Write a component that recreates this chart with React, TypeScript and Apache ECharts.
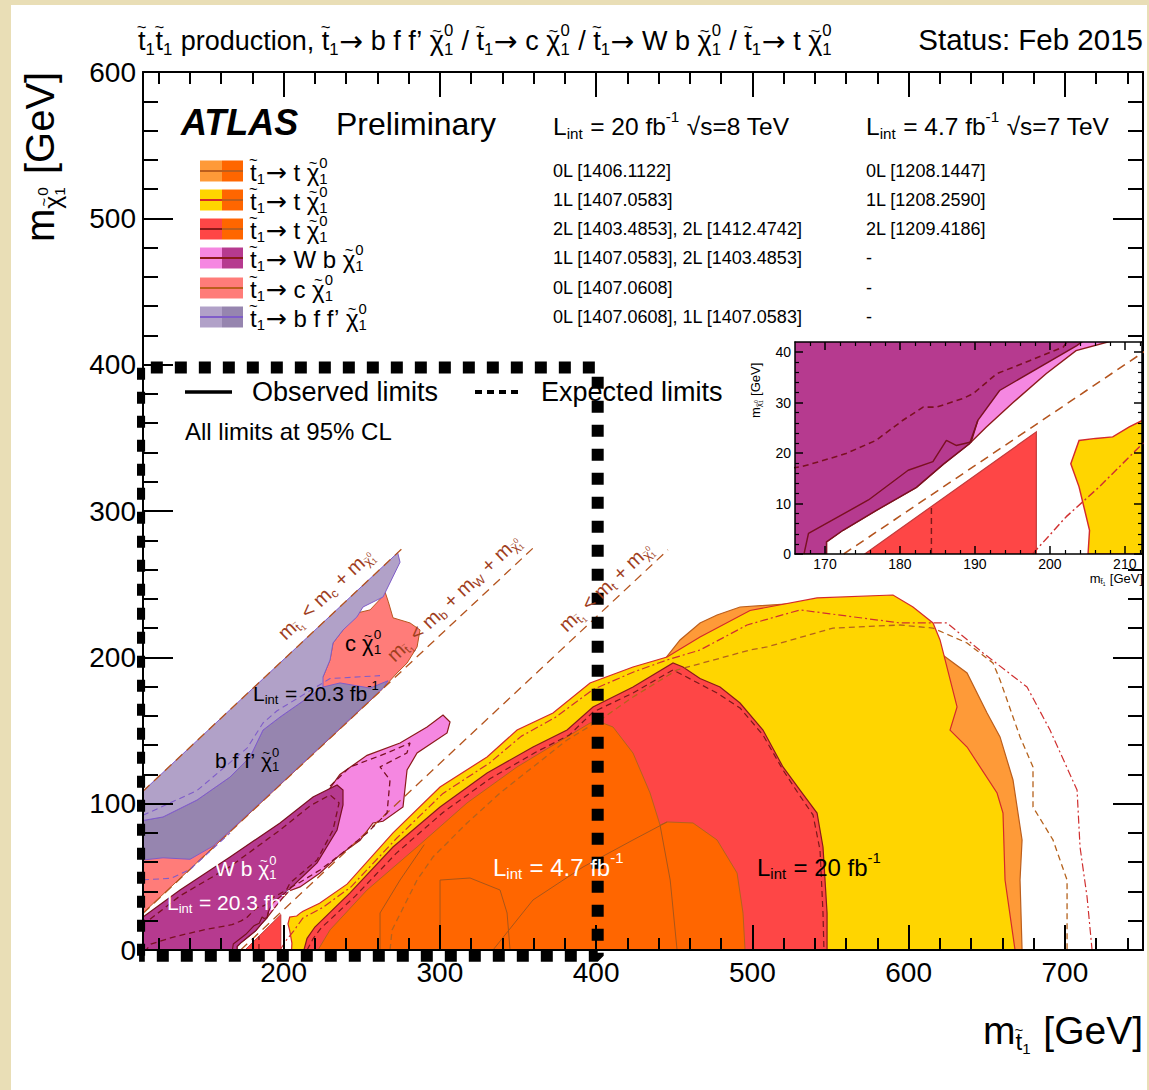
import React, { useEffect, useRef } from "react";
import * as echarts from "echarts";

const FONT = "'Liberation Sans', Arimo, Arial, sans-serif";
const ARROW_FONT = "'DejaVu Sans', sans-serif";

/* ---------- axis ranges and ticks ---------- */
const X_RANGE = [110, 750];
const Y_RANGE = [0, 600];
const X_MAJOR = [200, 300, 400, 500, 600, 700];
const X_MINOR = [120, 140, 160, 180, 220, 240, 260, 280, 320, 340, 360, 380, 420, 440, 460, 480, 520, 540, 560, 580, 620, 640, 660, 680, 720, 740];
const Y_MAJOR = [0, 100, 200, 300, 400, 500, 600];
const Y_MINOR = [20, 40, 60, 80, 120, 140, 160, 180, 220, 240, 260, 280, 320, 340, 360, 380, 420, 440, 460, 480, 520, 540, 560, 580];

const INSET_X_RANGE = [166, 212.3];
const INSET_Y_RANGE = [0, 42];
const INSET_X_MAJOR = [170, 180, 190, 200, 210];
const INSET_X_MINOR = [168, 172, 174, 176, 178, 182, 184, 186, 188, 192, 194, 196, 198, 202, 204, 206, 208, 212];
const INSET_Y_MAJOR = [0, 10, 20, 30, 40];
const INSET_Y_MINOR = [2, 4, 6, 8, 12, 14, 16, 18, 22, 24, 26, 28, 32, 34, 36, 38];

/* ---------- kinematic boundaries (m_stop, m_LSP in GeV) ---------- */
const KIN_C = [[110, 108.5], [276.5, 275]];
const KIN_W = [[110, 25], [362, 277]];
const KIN_T = [[172.5, 0], [446, 273.5]];

/* ---------- stop -> t chi: excluded regions ---------- */
const T_0L_8TEV = [[261.7, 0], [261.7, 25.3], [274.5, 47.8], [287.3, 70.4], [306.5, 93.6], [327.6, 111.4], [349.4, 131.9], [370.5, 143.5], [396.1, 155.1], [415.3, 170.9], [434.5, 185.9], [453.7, 211.9], [466.5, 223.5], [477.4, 228.9], [492.1, 234.4], [530.5, 237.1], [562.5, 230.3], [594.5, 220.7], [620.1, 203.0], [637.4, 189.3], [650.2, 162.0], [658.5, 145.6], [666.8, 116.2], [672.6, 75.2], [671.3, 47.8], [672.6, 0]];
const T_1L_8TEV = [[205.1, 0], [205.3, 4.7], [203.9, 13.3], [202.8, 17.9], [203.9, 22.5], [206.1, 22.9], [208.4, 23.2], [210.6, 25.2], [212.4, 26.5], [223, 32], [240.6, 45], [270, 80], [300.1, 111.4], [330.2, 131.9], [349.4, 150.3], [372.4, 162], [396.1, 182.5], [423.6, 193.4], [445.4, 200.2], [466.5, 213.9], [498.5, 232], [541.4, 240.6], [590, 242.6], [602.8, 234.4], [615.6, 223.5], [620.1, 211.9], [631, 166.1], [626.5, 150.3], [637.4, 138.7], [656.6, 107.3], [660.4, 93.6], [661.7, 47.8], [668.1, 0]];
const T_2L_8TEV = [[213, 0], [215, 8], [220, 15.7], [242.5, 39], [270, 70.4], [300.1, 97.7], [330.2, 121], [359.6, 138.7], [381.4, 150.3], [398, 166.1], [423.6, 179.7], [449.2, 196.1], [455.6, 193.4], [466.5, 185.5], [479.3, 179.7], [492.1, 168.8], [506.8, 150.3], [519.6, 125.1], [530.5, 109.3], [541.4, 93.6], [545.2, 70.4], [547.8, 25.3], [547.8, 0]];
const T_2L_8TEV_LOW = [[175.3, 0], [198.2, 24.2], [198.2, 0]];
const T_7TEV = [[222, 0], [229.7, 13.7], [253.4, 41], [285.4, 70.4], [317.4, 100.5], [349.4, 125.1], [370.5, 138.7], [396.1, 155.1], [402.5, 155.8], [410.8, 152.4], [423.6, 134.6], [434.5, 107.3], [440.9, 85.4], [445.4, 87.5], [462, 86.8], [477.4, 75.2], [490.2, 52.6], [494, 25.3], [495.3, 0]];
const T_0L_7TEV_A = [[261.7, 0], [261.7, 25.3], [274.5, 47.8], [290, 72]];
const T_0L_7TEV_B = [[440.9, 85.4], [447.4, 47.8], [451.8, 0]];
const T_1L_7TEV = [[334, 0], [359.6, 34.2], [391.6, 56.7], [423.6, 75.2], [445.4, 87.5]];
const T_2L_7TEV = [[300.1, 0], [300.1, 47.8], [319.3, 49.2], [338.5, 41], [343, 25.3], [344.9, 0]];
const EXP_0L = [[268.1, 0], [269.4, 13.7], [285.4, 47.8], [295.6, 63.6], [317.4, 86.8], [338.5, 107.3], [359.6, 125.1], [381.4, 143.5], [402.5, 157.2], [423.6, 172.9], [451.8, 191.4], [498.5, 205], [509.4, 207.1], [551.6, 220], [594.5, 222.1], [615.6, 220], [637.4, 209.8], [654, 196.1], [658.5, 184.5], [671.3, 145.6], [679.6, 125.1], [679.6, 97.7], [692.4, 75.2], [701.4, 47.8], [701.4, 0]];
const EXP_1L = [[197.7, 0], [202.2, 7.4], [206.6, 13.3], [212.4, 21.9], [225, 29], [243, 43], [272, 76], [302, 107], [332, 128], [352, 146], [374, 159], [398, 178], [424, 190], [445.4, 198.2], [466.5, 205], [496.6, 222.1], [530.5, 232.4], [594.5, 223.5], [624.6, 223.5], [647.6, 203], [675.8, 179.7], [690.5, 150.3], [707.8, 109.3], [709.7, 70.4], [714.2, 36.2], [717.4, 0]];
const EXP_2L = [[215, 0], [219, 8], [224, 15], [246, 37], [272, 66], [302, 94], [332, 117], [361, 135], [383, 147], [398, 162.6], [423.6, 175.6], [449.2, 191.4], [477.4, 175.6], [492.1, 165.4], [506.8, 146.9], [519.6, 123], [529.2, 107.3], [538.8, 92.3], [543.3, 68.3], [545.2, 25.3], [545.8, 0]];
const EXP_2L_LOW = [[184.2, 0], [184.2, 9.4]];

/* ---------- stop -> W b chi ---------- */
const WB_1L = [[170.2, 0], [170.2, 2.4], [172.4, 4.7], [176.8, 8.6], [182.2, 13.2], [185.8, 17.8], [189.3, 21.9], [191.5, 25.1], [195.1, 30], [199.5, 35.7], [203.5, 40.3], [210.5, 43.1], [223.3, 52.6], [236, 65], [248.9, 75], [257.2, 86.8], [263.6, 88], [276.4, 97.7], [279, 123], [285.4, 134.6], [304.6, 148.3], [306.5, 155.8], [302, 160.6], [291.8, 152.4], [274.5, 141.5], [253.4, 133], [236, 120], [228, 108], [200, 82], [150, 48], [115, 20], [110, 16], [110, 0]];
const WB_2L = [[110, 0], [110, 22.6], [133.7, 41], [165.7, 63.6], [197.7, 86.8], [218.8, 104.6], [234.2, 112.8], [238, 109.3], [238, 99.1], [234.2, 82], [221.4, 59.5], [210, 48], [203.6, 41.3], [193.3, 32.4], [190.4, 26.5], [189.3, 21.9], [185.8, 17.8], [182.2, 13.2], [176.8, 8.6], [172.4, 4.7], [170.2, 2.4], [170.2, 0]];
const WB_2L_LINE = [[167.2, 0], [167.8, 4.1], [175.8, 10.7], [181.1, 16.6], [184.4, 18.3], [186.2, 22.5], [187.5, 21.5], [189.5, 22.2], [190.4, 26.5]];
const EXP_WB_2L = [[114.5, 21], [133.7, 37], [165.7, 57], [197.7, 82], [216.9, 98.5], [229.7, 106], [235.5, 100.5], [231.6, 82], [221.4, 61.5], [204.1, 45.8], [201.8, 41], [197.3, 38.3], [192.9, 35.7], [189.8, 31.8], [188.4, 30.8], [184.9, 29.1], [183.1, 29.1], [180.4, 26.5], [176.8, 22.5], [172.8, 19.9], [170.6, 18.9], [166.9, 17.3], [150, 14], [130, 9], [115, 4], [112, 0]];
const EXP_WB_1L = [[229.7, 112], [242.5, 125.1], [266.2, 134.6], [280.9, 141.5], [278.9, 134.6], [261.7, 125.1], [268.1, 116.2], [266.2, 93.6], [253.4, 80], [236.1, 65], [223.3, 54.7], [210, 46], [204, 42.5]];

/* ---------- stop -> c chi and stop -> b f f' chi ---------- */
const CC_0L = [[110, 25.3], [262, 177], [272.6, 189.3], [279, 196.1], [285.4, 207.1], [287.3, 218.7], [280.9, 223.5], [270, 227], [267, 238], [264.5, 246], [262, 240], [255.3, 232.4], [246.9, 230.3], [238, 218.7], [231.6, 209.8], [229.7, 198.2], [225.2, 186.6], [200, 150], [150, 110], [110, 86]];
const BFF_1L = [[110, 88.5], [122.8, 90.9], [144.6, 102.5], [165.7, 118.2], [178.5, 131.9], [186.8, 150.3], [197.7, 159.2], [225.2, 179.7], [236.1, 182.5], [255.3, 179], [266.8, 184], [264, 179.5], [200, 115.5], [165.7, 81.5], [154.8, 71], [140.1, 62], [122.8, 63], [110, 61.5]];
const BFF_0L = [[110, 108.5], [273, 271.5], [274.5, 265], [263.6, 241.2], [250.8, 234.4], [246.9, 227.6], [238, 218.7], [231.6, 209.8], [229.7, 198.2], [225.2, 186.6], [225.2, 179.7], [197.7, 159.2], [186.8, 150.3], [178.5, 131.9], [165.7, 118.2], [144.6, 102.5], [122.8, 90.9], [110, 88.5]];
const EXP_BFF_A = [[110, 92], [144.6, 109], [176.6, 138], [186.8, 155.1], [195.8, 163.5], [229.7, 185.5], [261.7, 187.5]];
const EXP_BFF_B = [[110, 48], [128, 49], [140, 55], [165.7, 80]];

/* ---------- highlighted low-mass window ---------- */
const BOX = [[107.5, -4], [107.5, 398], [401, 398], [401, -4], [107.5, -4]];

/* ---------- colours ---------- */
const COL = {
  orangeLight: "#FE9A38", yellow: "#FFD500", red: "#FE4646", orangeDark: "#FF6600",
  pink: "#F587E1", magenta: "#B63A8F", salmon: "#FF7C79", purpleLight: "#B1A1C8", purpleDark: "#9685AF",
  lnOrange: "#BC5E1C", lnYellow: "#D42A2A", lnRed: "#8B1A1A", lnPurple: "#7F5CC9", kin: "#B4541E", kinText: "#A0401E",
};

/* ---------- text layout with sub/superscripts and tilde accents ---------- */
const measureCtx: CanvasRenderingContext2D | null =
  typeof document !== "undefined" ? document.createElement("canvas").getContext("2d") : null;

function textWidth(t: string, size: number, weight: string, fstyle: string, family = FONT) {
  if (!measureCtx) return t.length * size * 0.55;
  measureCtx.font = `${fstyle} ${weight} ${size}px ${family}`;
  return measureCtx.measureText(t).width;
}

type TOpts = { size: number; color: string; weight?: string; style?: string };

function findClose(s: string, open: number) {
  let d = 0;
  for (let i = open; i < s.length; i++) {
    if (s[i] === "{") d++;
    else if (s[i] === "}") {
      d--;
      if (d === 0) return i;
    }
  }
  return s.length;
}

function textEl(t: string, x: number, y: number, size: number, o: TOpts, weight?: string, fstyle?: string, family = FONT) {
  const w = weight ?? o.weight ?? "normal";
  const st = fstyle ?? o.style ?? "normal";
  return {
    type: "text", x, y, z: 20,
    style: {
      text: t, font: `${st} ${w} ${size}px ${family}`, fill: o.color,
      align: "left", verticalAlign: "middle", textAlign: "left", textVerticalAlign: "middle",
    },
  };
}

function layout(s: string, size: number, x0: number, y: number, o: TOpts, out: any[]): number {
  let x = x0;
  let buf = "";
  const weight = o.weight ?? "normal";
  const fstyle = o.style ?? "normal";
  const flush = () => {
    if (buf) {
      out.push(textEl(buf, x, y, size, o));
      x += textWidth(buf, size, weight, fstyle);
      buf = "";
    }
  };
  let i = 0;
  while (i < s.length) {
    const c = s[i];
    if ((c === "_" || c === "^") && s[i + 1] === "{") {
      flush();
      const e1 = findClose(s, i + 1);
      const a = s.slice(i + 2, e1);
      let j = e1 + 1;
      let b: string | null = null;
      if ((s[j] === "_" || s[j] === "^") && s[j] !== c && s[j + 1] === "{") {
        const e2 = findClose(s, j + 1);
        b = s.slice(j + 2, e2);
        j = e2 + 1;
      }
      const sub = c === "_" ? a : b;
      const sup = c === "^" ? a : b;
      const ss = size * 0.62;
      let w = 0;
      if (sub !== null) w = Math.max(w, layout(sub, ss, x, y + size * 0.3, o, out) - x);
      if (sup !== null) w = Math.max(w, layout(sup, ss, x, y - size * 0.38, o, out) - x);
      x += w + size * 0.03;
      i = j;
    } else if (c === "~") {
      flush();
      const ch = s[i + 1];
      out.push(textEl(ch, x, y, size, o));
      const cw = textWidth(ch, size, weight, fstyle);
      const ts = size * 0.62;
      const tw = textWidth("~", ts, "normal", "normal");
      const dy = ch === "t" ? -0.5 : -0.36;
      out.push(textEl("~", x + cw / 2 - tw / 2, y + dy * size, ts, o, "normal", "normal"));
      x += cw;
      i += 2;
    } else if (c === "→") {
      flush();
      const as = size * 1.05;
      out.push(textEl("→", x, y, as, o, "normal", "normal", ARROW_FONT));
      x += textWidth("→", as, "normal", "normal", ARROW_FONT);
      i++;
    } else {
      buf += c;
      i++;
    }
  }
  flush();
  return x;
}

function label(s: string, x: number, y: number, o: TOpts, align: "left" | "right" | "center" = "left", rotation = 0) {
  const kids: any[] = [];
  const w = layout(s, o.size, 0, 0, o, kids);
  const shift = align === "right" ? -w : align === "center" ? -w / 2 : 0;
  kids.forEach((k) => (k.x += shift));
  return { type: "group", x, y, rotation, z: 20, children: kids };
}

/* ---------- series builders ---------- */
function poly(pts: number[][], fill: string, stroke: string, lw: number, ax: number, ay: number, z: number) {
  return {
    type: "custom", xAxisIndex: ax, yAxisIndex: ay, z, clip: true, silent: true,
    data: pts,
    renderItem: (params: any, api: any) => {
      if (params.dataIndex !== 0) return null;
      return {
        type: "polygon",
        shape: { points: pts.map((p) => api.coord(p)) },
        style: { fill, stroke, lineWidth: lw },
      };
    },
  };
}

function path(pts: number[][], color: string, width: number, dash: any, ax: number, ay: number, z: number, clip = true) {
  return {
    type: "line", xAxisIndex: ax, yAxisIndex: ay, z, data: pts, symbol: "none", showSymbol: false,
    silent: true, clip, lineStyle: { color, width, type: dash, cap: "butt" }, emphasis: { disabled: true },
  };
}

function contentSeries(ax: number, ay: number, z: number, lw: number) {
  const dash = [6, 4];
  return [
    path(KIN_C, COL.kin, 1.3 * lw, [9, 6], ax, ay, z),
    path(KIN_W, COL.kin, 1.3 * lw, [9, 6], ax, ay, z),
    path(KIN_T, COL.kin, 1.3 * lw, [9, 6], ax, ay, z),
    poly(T_0L_8TEV, COL.orangeLight, COL.lnOrange, 1.2 * lw, ax, ay, z),
    poly(T_1L_8TEV, COL.yellow, COL.lnYellow, 1.2 * lw, ax, ay, z),
    poly(T_2L_8TEV, COL.red, COL.lnRed, 1.2 * lw, ax, ay, z),
    poly(T_2L_8TEV_LOW, COL.red, "#C43A3A", 1 * lw, ax, ay, z),
    poly(T_7TEV, COL.orangeDark, "#B5621C", 1 * lw, ax, ay, z),
    path(T_0L_7TEV_A, "#A8561A", 1 * lw, "solid", ax, ay, z),
    path(T_0L_7TEV_B, "#A8561A", 1 * lw, "solid", ax, ay, z),
    path(T_1L_7TEV, "#A8561A", 1 * lw, "solid", ax, ay, z),
    path(T_2L_7TEV, "#A8561A", 1 * lw, "solid", ax, ay, z),
    poly(WB_1L, COL.pink, COL.lnRed, 1.2 * lw, ax, ay, z),
    poly(WB_2L, COL.magenta, "#7A1020", 1.2 * lw, ax, ay, z),
    path(WB_2L_LINE, "#7A1020", 1.2 * lw, "solid", ax, ay, z),
    poly(CC_0L, COL.salmon, "#B9561E", 1 * lw, ax, ay, z),
    poly(BFF_1L, COL.purpleDark, COL.lnPurple, 1 * lw, ax, ay, z),
    poly(BFF_0L, COL.purpleLight, COL.lnPurple, 1 * lw, ax, ay, z),
    path(EXP_0L, "#B5621C", 1.3 * lw, dash, ax, ay, z),
    path(EXP_1L, "#D03030", 1.2 * lw, [8, 3, 2, 3], ax, ay, z),
    path(EXP_2L, "#7A1A1A", 1.2 * lw, dash, ax, ay, z),
    path(EXP_2L_LOW, "#7A1A1A", 1.2 * lw, dash, ax, ay, z),
    path(EXP_WB_2L, "#7A1020", 1.3 * lw, dash, ax, ay, z),
    path(EXP_WB_1L, "#7A1020", 1.3 * lw, dash, ax, ay, z),
    path(EXP_BFF_A, COL.lnPurple, 1.1 * lw, dash, ax, ay, z),
    path(EXP_BFF_B, COL.lnPurple, 1.1 * lw, dash, ax, ay, z),
  ];
}

/* ---------- axes ---------- */
function mkAxis(grid: number, range: number[], pos: string, ticks: number[], len: number, z: number,
  o: { line?: boolean; labels?: number[]; labelSize?: number; margin?: number; lw?: number }) {
  const lw = o.lw ?? 2;
  return {
    type: "value", gridIndex: grid, min: range[0], max: range[1], position: pos, z, offset: 0,
    axisLine: { show: !!o.line, onZero: false, lineStyle: { color: "#000", width: lw } },
    axisTick: { show: true, inside: true, length: len, customValues: ticks, lineStyle: { color: "#000", width: lw } },
    axisLabel: o.labels
      ? { show: true, customValues: o.labels, fontSize: o.labelSize, fontFamily: FONT, color: "#000", margin: o.margin }
      : { show: false },
    splitLine: { show: false },
    minorTick: { show: false },
  };
}

/* ---------- legend, annotations ---------- */
const LEG_ROWS_Y = [171, 200, 229, 258, 288, 317];
const LEG_LABELS = [
  "~t_{1}→ t ~χ_{1}^{0}", "~t_{1}→ t ~χ_{1}^{0}", "~t_{1}→ t ~χ_{1}^{0}",
  "~t_{1}→ W b ~χ_{1}^{0}", "~t_{1}→ c ~χ_{1}^{0}", "~t_{1}→ b f f’ ~χ_{1}^{0}",
];
const LEG_SWATCH = [
  { l: COL.orangeLight, r: COL.orangeDark, ll: COL.lnOrange, lr: COL.lnOrange },
  { l: COL.yellow, r: COL.orangeDark, ll: COL.lnYellow, lr: COL.lnOrange },
  { l: COL.red, r: COL.orangeDark, ll: COL.lnRed, lr: COL.lnOrange },
  { l: COL.pink, r: COL.magenta, ll: COL.lnRed, lr: COL.lnRed },
  { l: COL.salmon, r: COL.salmon, ll: COL.lnOrange, lr: COL.lnOrange },
  { l: COL.purpleLight, r: COL.purpleDark, ll: COL.lnPurple, lr: COL.lnPurple },
];
const REFS_8TEV = ["0L [1406.1122]", "1L [1407.0583]", "2L [1403.4853], 2L [1412.4742]", "1L [1407.0583], 2L [1403.4853]", "0L [1407.0608]", "0L [1407.0608], 1L [1407.0583]"];
const REFS_7TEV = ["0L [1208.1447]", "1L [1208.2590]", "2L [1209.4186]", "-", "-", "-"];

function buildGraphics() {
  const g: any[] = [];
  g.push({ type: "rect", z: 0, shape: { x: 11, y: 5, width: 1136, height: 1085 }, style: { fill: "#ffffff" } });
  const black = (size: number) => ({ size, color: "#000" });

  g.push(label("~t_{1}~t_{1} production, ~t_{1}→ b f f’ ~χ_{1}^{0} / ~t_{1}→ c ~χ_{1}^{0} / ~t_{1}→ W b ~χ_{1}^{0} / ~t_{1}→ t ~χ_{1}^{0}", 138, 41, black(27)));
  g.push(label("Status: Feb 2015", 1143, 39, black(29.5), "right"));

  g.push(label("ATLAS", 181, 122, { size: 36, color: "#000", weight: "bold", style: "italic" }));
  g.push(label("Preliminary", 336, 124, black(32)));
  g.push(label("L_{int} = 20 fb^{-1} √s=8 TeV", 553, 126, black(24.5)));
  g.push(label("L_{int} = 4.7 fb^{-1} √s=7 TeV", 866, 126, black(24.5)));

  LEG_ROWS_Y.forEach((y, i) => {
    const sw = LEG_SWATCH[i];
    g.push({ type: "rect", z: 20, shape: { x: 200, y: y - 10.5, width: 22, height: 21 }, style: { fill: sw.l } });
    g.push({ type: "rect", z: 20, shape: { x: 222, y: y - 10.5, width: 21, height: 21 }, style: { fill: sw.r } });
    g.push({ type: "line", z: 21, shape: { x1: 200, y1: y, x2: 222, y2: y }, style: { stroke: sw.ll, lineWidth: 2 } });
    g.push({ type: "line", z: 21, shape: { x1: 222, y1: y, x2: 243, y2: y }, style: { stroke: sw.lr, lineWidth: 2 } });
    g.push(label(LEG_LABELS[i], 250, y + 1, black(24)));
    g.push(label(REFS_8TEV[i], 553, y, black(18)));
    g.push(label(REFS_7TEV[i], 866, y, black(18)));
  });

  g.push({ type: "line", z: 20, shape: { x1: 185, y1: 392, x2: 232, y2: 392 }, style: { stroke: "#000", lineWidth: 3.5 } });
  g.push(label("Observed limits", 252, 392, black(27)));
  g.push({ type: "line", z: 20, shape: { x1: 475, y1: 392, x2: 519, y2: 392 }, style: { stroke: "#000", lineWidth: 4, lineDash: [7, 5] } });
  g.push(label("Expected limits", 541, 392, black(27)));
  g.push(label("All limits at 95% CL", 185, 431, black(24)));

  // region annotations
  g.push(label("c ~χ_{1}^{0}", 345, 643, black(22)));
  g.push(label("L_{int} = 20.3 fb^{-1}", 253, 693, black(21)));
  g.push(label("b f f’ ~χ_{1}^{0}", 215, 760, black(21)));
  g.push(label("W b ~χ_{1}^{0}", 215, 868, { size: 21, color: "#fff" }));
  g.push(label("L_{int} = 20.3 fb^{-1}", 167, 902, { size: 21, color: "#fff" }));
  g.push(label("L_{int} = 4.7 fb^{-1}", 493, 867, { size: 24, color: "#fff" }));
  g.push(label("L_{int} = 20 fb^{-1}", 757, 867, black(24)));

  // kinematic boundary labels, drawn along the diagonals
  const rot = 0.758;
  const kt = { size: 20, color: COL.kinText };
  g.push(label("m_{~t_{1}} < m_{c} + m_{~χ_{1}^{0}}", 281, 636, kt, "left", rot));
  g.push(label("m_{~t_{1}} < m_{b} + m_{W} + m_{~χ_{1}^{0}}", 390, 658, kt, "left", rot));
  g.push(label("m_{~t_{1}} < m_{t} + m_{~χ_{1}^{0}}", 562, 628, kt, "left", rot));

  // axis titles
  g.push(label("m_{~χ_{1}^{0}} [GeV]", 40, 242, black(40), "left", Math.PI / 2));
  g.push(label("m_{~t_{1}} [GeV]", 1143, 1030, black(39), "right"));
  g.push(label("m_{~χ_{1}^{0}} [GeV]", 755, 418, black(13), "left", Math.PI / 2));
  g.push(label("m_{~t_{1}} [GeV]", 1143, 578, black(13), "right"));
  return g;
}

function buildOption() {
  const series = [
    ...contentSeries(0, 0, 3, 1),
    path(BOX, "#000", 12, [12, 12], 0, 0, 6, false),
    ...contentSeries(4, 4, 8, 1.2),
  ];
  return {
    animation: false,
    backgroundColor: "#E9DEB6",
    grid: [
      { left: 143, top: 72, width: 1000, height: 878, show: false, z: 2 },
      { left: 795, top: 342, width: 347, height: 212, show: true, backgroundColor: "#fff", borderWidth: 0, z: 7 },
    ],
    xAxis: [
      mkAxis(0, X_RANGE, "bottom", X_MAJOR, 25, 5, { line: true, labels: X_MAJOR, labelSize: 28, margin: 8 }),
      mkAxis(0, X_RANGE, "bottom", X_MINOR, 12, 5, {}),
      mkAxis(0, X_RANGE, "top", X_MAJOR, 25, 5, { line: true }),
      mkAxis(0, X_RANGE, "top", X_MINOR, 12, 5, {}),
      mkAxis(1, INSET_X_RANGE, "bottom", INSET_X_MAJOR, 8, 9, { line: true, labels: INSET_X_MAJOR, labelSize: 14, margin: 3, lw: 1.5 }),
      mkAxis(1, INSET_X_RANGE, "bottom", INSET_X_MINOR, 4, 9, { lw: 1.2 }),
      mkAxis(1, INSET_X_RANGE, "top", INSET_X_MAJOR, 8, 9, { line: true, lw: 1.5 }),
      mkAxis(1, INSET_X_RANGE, "top", INSET_X_MINOR, 4, 9, { lw: 1.2 }),
    ],
    yAxis: [
      mkAxis(0, Y_RANGE, "left", Y_MAJOR, 30, 5, { line: true, labels: Y_MAJOR, labelSize: 28, margin: 7 }),
      mkAxis(0, Y_RANGE, "left", Y_MINOR, 15, 5, {}),
      mkAxis(0, Y_RANGE, "right", Y_MAJOR, 30, 5, { line: true }),
      mkAxis(0, Y_RANGE, "right", Y_MINOR, 15, 5, {}),
      mkAxis(1, INSET_Y_RANGE, "left", INSET_Y_MAJOR, 8, 9, { line: true, labels: INSET_Y_MAJOR, labelSize: 14, margin: 4, lw: 1.5 }),
      mkAxis(1, INSET_Y_RANGE, "left", INSET_Y_MINOR, 4, 9, { lw: 1.2 }),
      mkAxis(1, INSET_Y_RANGE, "right", INSET_Y_MAJOR, 8, 9, { line: true, lw: 1.5 }),
      mkAxis(1, INSET_Y_RANGE, "right", INSET_Y_MINOR, 4, 9, { lw: 1.2 }),
    ],
    series,
    graphic: { elements: buildGraphics() },
  };
}

export default function App() {
  const ref = useRef<HTMLDivElement>(null);
  useEffect(() => {
    if (!ref.current) return;
    const chart = echarts.init(ref.current, undefined, { renderer: "svg" });
    chart.setOption(buildOption() as any);
    return () => chart.dispose();
  }, []);
  return <div ref={ref} style={{ position: "absolute", left: 0, top: 0, width: 1149, height: 1090 }} />;
}
